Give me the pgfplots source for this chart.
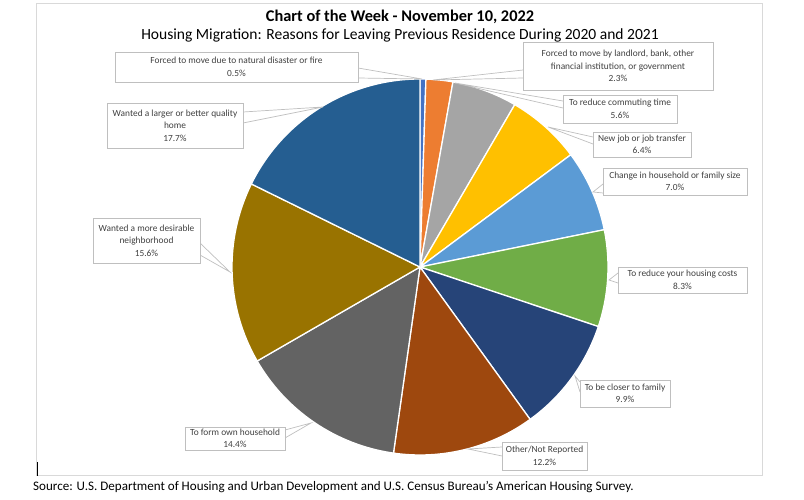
\documentclass[border=0pt]{standalone}
\usepackage{fontspec}
\setmainfont{Carlito}
\usepackage{pgfplots}
\usepackage{pgfplotstable}
\pgfplotsset{compat=1.18}

% slice colours, clockwise from 12 o'clock
\definecolor{sl0}{HTML}{4472C4}
\definecolor{sl1}{HTML}{ED7D31}
\definecolor{sl2}{HTML}{A5A5A5}
\definecolor{sl3}{HTML}{FFC000}
\definecolor{sl4}{HTML}{5B9BD5}
\definecolor{sl5}{HTML}{70AD47}
\definecolor{sl6}{HTML}{264478}
\definecolor{sl7}{HTML}{9E480E}
\definecolor{sl8}{HTML}{636363}
\definecolor{sl9}{HTML}{997300}
\definecolor{sl10}{HTML}{255E91}
\definecolor{boxline}{HTML}{BFBFBF}
\definecolor{labtext}{HTML}{404040}
\definecolor{frame}{HTML}{D9D9D9}

% share of movers (percent), clockwise from the top
\pgfplotstableread{
val
0.5
2.3
5.6
6.4
7.0
8.3
9.9
12.2
14.4
15.6
17.7
}\pietab

% box x1 y1 x2 y2, wedge base 1, wedge base 2, tip, text
\newcommand{\callout}[9]{%
  \draw[boxline, line width=0.7bp] (axis cs:#5) -- (axis cs:#7) -- (axis cs:#6);
  \filldraw[fill=white, draw=boxline, line width=0.7bp] (axis cs:#1,#2) rectangle (axis cs:#3,#4);
  \node[text=labtext, align=center, font=\fontsize{9.4}{12.5}\selectfont, inner sep=0pt]
    at (axis cs:{(#1+#3)/2},{(#2+#4)/2}) {#8};
}

\begin{document}
\begin{tikzpicture}
\pgfplotstablegetrowsof{\pietab}
\pgfmathtruncatemacro\pien{\pgfplotsretval-1}
\gdef\pietot{0}
\foreach \i in {0,...,\pien}{%
  \pgfplotstablegetelem{\i}{val}\of\pietab
  \pgfmathsetmacro\t{\pietot+\pgfplotsretval}%
  \xdef\pietot{\t}%
}
\gdef\piecum{0}
\foreach \i in {0,...,\pien}{%
  \pgfplotstablegetelem{\i}{val}\of\pietab
  \pgfmathsetmacro\a{90-\piecum/\pietot*360}%
  \pgfmathsetmacro\c{\piecum+\pgfplotsretval}%
  \pgfmathsetmacro\b{90-\c/\pietot*360}%
  \expandafter\xdef\csname pieS\i\endcsname{\a}%
  \expandafter\xdef\csname pieE\i\endcsname{\b}%
  \xdef\piecum{\c}%
}
\begin{axis}[
    width=804bp, height=500bp, scale only axis,
    xmin=0, xmax=804, ymin=0, ymax=500, y dir=reverse,
    hide axis, clip=false
]
\path (axis cs:0,0) rectangle (axis cs:804,500);
\draw[frame, line width=0.8bp] (axis cs:36,3) rectangle (axis cs:762,475);
\draw[black, line width=0.6bp] (axis cs:37,462) -- (axis cs:37,476);

% pie slices
\pgfplotsinvokeforeach{0,...,10}{
  \filldraw[fill=sl#1, draw=white, line width=1.3bp]
    (axis cs:420,267) -- ++(\csname pieS#1\endcsname:188bp)
    arc[start angle=\csname pieS#1\endcsname, end angle=\csname pieE#1\endcsname, radius=188bp] -- cycle;
}

% titles
\node[font=\bfseries\fontsize{16.4}{18}\selectfont] at (axis cs:400,17) {Chart of the Week - November 10, 2022};
\node[font=\fontsize{15.6}{18}\selectfont] at (axis cs:400,35) {Housing Migration: Reasons for Leaving Previous Residence During 2020 and 2021};
\node[font=\fontsize{13.1}{16}\selectfont, anchor=west, inner sep=0pt] at (axis cs:33,487) {Source: U.S. Department of Housing and Urban Development and U.S. Census Bureau’s American Housing Survey.};

% data labels
\callout{115}{52}{358}{82}{358,68}{358,78}{422,79}{Forced to move due to natural disaster or fire\\0.5\%}{}
\callout{523}{42}{713}{90}{523,70}{523,78}{433,80}{Forced to move by landlord, bank, other\\financial institution, or government\\2.3\%}{}
\callout{563}{95}{677}{123}{563,101}{563,108}{455,83}{To reduce commuting time\\5.6\%}{}
\callout{593}{132}{691}{157}{593,137}{593,144}{548,127}{New job or job transfer\\6.4\%}{}
\callout{603}{168}{747}{195}{603,184}{603,193}{593,192}{Change in household or family size\\7.0\%}{}
\callout{618}{267}{747}{293}{618,273}{618,283}{609,280}{To reduce your housing costs\\8.3\%}{}
\callout{580}{380}{670}{407}{580,382}{580,392}{575,376}{To be closer to family\\9.9\%}{}
\callout{502}{442}{587}{470}{502,447}{502,456}{468,449}{Other/Not Reported\\12.2\%}{}
\callout{185}{427}{285}{450}{285,430}{285,438}{311,423}{To form own household\\14.4\%}{}
\callout{93}{218}{200}{263}{200,243}{200,255}{230,272}{Wanted a more desirable\\neighborhood\\15.6\%}{}
\callout{107}{103}{243}{148}{243,112}{243,123}{323,107}{Wanted a larger or better quality\\home\\17.7\%}{}
\end{axis}
\end{tikzpicture}
\end{document}
